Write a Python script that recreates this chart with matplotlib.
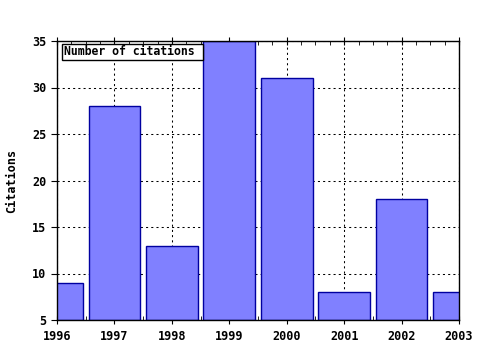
import matplotlib
matplotlib.use("Agg")
import matplotlib.pyplot as plt
from matplotlib.ticker import MultipleLocator

years = [1996, 1997, 1998, 1999, 2000, 2001, 2002, 2003]
citations = [9, 28, 13, 35, 31, 8, 18, 8]
y_ticks = [5, 10, 15, 20, 25, 30, 35]

plt.rcParams["font.family"] = "DejaVu Sans Mono"
plt.rcParams["font.weight"] = "bold"

fig = plt.figure(figsize=(4.8, 3.5), dpi=100)
ax = fig.add_axes([57 / 480, 1 - 320 / 350, 402 / 480, 279 / 350])

# bars start at the bottom of the value axis
base = y_ticks[0]
heights = [c - base for c in citations]
ax.bar(years, heights, bottom=base, width=0.9, color="#8080ff",
       edgecolor="#0000a0", linewidth=1.0, zorder=2)

ax.set_xlim(years[0], years[-1])
ax.set_ylim(y_ticks[0], y_ticks[-1])
ax.set_xticks(years)
ax.set_yticks(y_ticks)
ax.xaxis.set_minor_locator(MultipleLocator(0.25))
ax.grid(True, which="major", color="black", linestyle=(0, (2, 3)),
        linewidth=0.75, zorder=1)
ax.set_axisbelow(True)

ax.tick_params(axis="x", which="major", direction="inout", length=6,
               top=True, labelsize=8.5, pad=4)
ax.tick_params(axis="x", which="minor", direction="in", length=3, top=True)
ax.tick_params(axis="y", which="major", direction="out", length=4,
               labelsize=8.5)
for s in ax.spines.values():
    s.set_linewidth(1.0)

ax.set_ylabel("Citations", fontsize=8.5, fontweight="bold", labelpad=10)

ax.text(0.017, 0.985, "Number of citations ", transform=ax.transAxes,
        ha="left", va="top", fontsize=8.3, fontweight="bold", zorder=5,
        bbox=dict(boxstyle="square,pad=0.12", facecolor="white",
                  edgecolor="black", linewidth=1.0))

fig.savefig("out.png", dpi=100)
